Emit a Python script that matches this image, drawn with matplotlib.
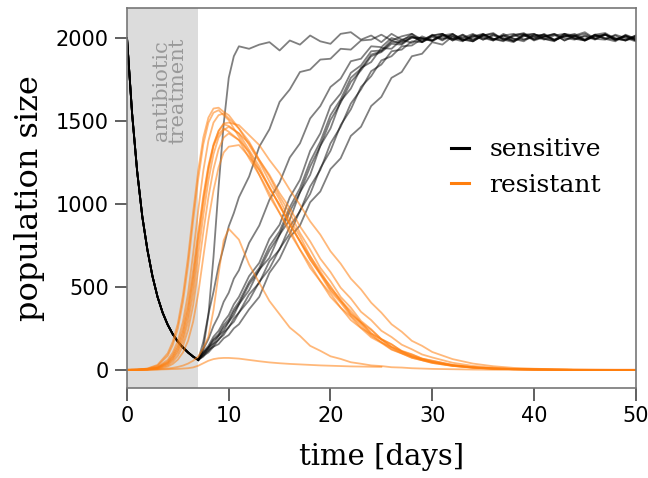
import numpy as np
import matplotlib
matplotlib.use('Agg')
import matplotlib.pyplot as plt
from matplotlib.lines import Line2D

# shared decay of sensitive cells during treatment
t_decay = [0, 0.5, 1, 1.5, 2, 2.5, 3, 3.5, 4, 4.5, 5, 5.5, 6, 6.5, 7]
s_decay = [2000, 1545, 1195, 925, 725, 565, 440, 345, 272, 215, 170, 135, 105, 80, 60]

# sensitive regrowth after treatment
t_s = [7, 7.5, 8, 8.5, 9, 9.5, 10, 10.5, 11] + list(range(12, 51))
sens = [
	# fast
	[60, 130, 330, 680, 1100, 1480, 1760, 1890, 1950, 1935, 1960, 1975, 1925, 1985, 1960, 2015,
	 1980, 1965, 2025, 2035, 1990, 2015, 1975, 2025, 1990, 2010, 1975, 2015, 2025, 1985, 2010,
	 1990, 2020, 1995, 1980, 2015, 2030, 1990, 2010, 2025, 1985, 2015, 2035, 1995, 2020, 1990, 2010, 1985],
	# second
	[60, 170, 335, 470, 625, 740, 865, 945, 1040, 1165, 1345, 1450, 1615, 1690, 1795, 1810, 1870,
	 1875, 1935, 1930, 1985, 1990, 2020, 1985, 2010, 2025, 1990, 2015, 1985, 2020, 1995, 1980,
	 2015, 2030, 1990, 2010, 2020, 1985, 2005, 2025, 2000, 1990, 2015, 1995, 2025, 1985, 2010, 1990],
	# third
	[60, 125, 185, 265, 325, 410, 465, 550, 600, 765, 870, 1025, 1130, 1280, 1365, 1515, 1590,
	 1705, 1755, 1860, 1875, 1950, 1945, 2000, 1980, 2025, 1975, 2015, 2025, 1985, 2020, 1980,
	 2015, 2025, 1990, 1975, 2020, 2025, 1995, 1980, 2025, 2000, 1985, 2020, 2030, 1995, 1985, 2015],
	# slow one
	[60, 85, 105, 140, 155, 190, 210, 250, 275, 365, 440, 585, 670, 800, 870, 1010, 1075, 1210,
	 1275, 1410, 1465, 1590, 1645, 1760, 1795, 1890, 1905, 1975, 1960, 2010, 1990, 1980, 2025,
	 1995, 1985, 2020, 2025, 1990, 2010, 2020, 1985, 2010, 2025, 1995, 1990, 2020, 2000, 1980],
	# bundle
	[60, 110, 145, 200, 235, 290, 330, 395, 440, 565, 645, 790, 875, 1040, 1145, 1320, 1425,
	 1590, 1665, 1790, 1835, 1920, 1925, 1985, 1965, 2010, 1980, 2020, 1990, 2025, 1985, 2010,
	 2025, 1990, 2015, 1995, 1980, 2020, 2010, 1990, 2025, 2015, 1985, 2010, 2020, 1995, 1990, 2015],
	[60, 90, 135, 160, 205, 235, 290, 330, 395, 480, 605, 675, 815, 905, 1070, 1175, 1350, 1455,
	 1620, 1695, 1820, 1855, 1940, 1935, 1990, 1970, 2010, 1985, 2025, 1995, 1980, 2020, 2000,
	 1985, 2025, 1995, 1990, 2015, 2020, 1985, 2010, 2025, 1990, 2015, 1995, 1980, 2020, 1995],
	[60, 105, 135, 185, 215, 270, 305, 365, 410, 530, 615, 745, 835, 980, 1095, 1255, 1375, 1535,
	 1630, 1760, 1815, 1900, 1920, 1975, 1975, 2000, 2000, 1985, 2015, 2025, 1985, 2015, 1990,
	 2020, 2000, 1980, 2015, 1995, 2025, 1990, 2010, 2015, 1985, 2020, 2000, 1990, 2015, 1985],
	[60, 95, 115, 155, 180, 225, 255, 310, 345, 455, 525, 655, 725, 865, 955, 1105, 1205, 1365,
	 1465, 1605, 1690, 1800, 1840, 1920, 1930, 1980, 1975, 2005, 2000, 1995, 2000, 2025, 1990,
	 2015, 1995, 1985, 2020, 2010, 1990, 2015, 2025, 1995, 1985, 2010, 2020, 1990, 2015, 1995],
	[60, 80, 120, 140, 185, 210, 260, 290, 345, 420, 530, 610, 730, 820, 960, 1060, 1215, 1320,
	 1475, 1570, 1705, 1770, 1865, 1890, 1950, 1955, 1995, 1985, 2015, 2010, 1985, 2005, 2020,
	 1990, 2015, 1980, 2010, 2025, 1995, 1985, 2015, 2010, 1990, 2020, 1995, 2015, 1985, 2010],
	[60, 102, 130, 178, 205, 255, 290, 350, 395, 515, 600, 720, 815, 955, 1070, 1225, 1350, 1505,
	 1610, 1735, 1805, 1890, 1915, 1965, 1960, 2005, 2000, 1980, 2015, 1995, 2020, 1990, 2010,
	 1985, 2015, 2025, 1990, 2005, 2020, 1985, 2015, 1995, 2010, 1990, 2020, 2000, 1985, 2005],
]

# resistant cells
t_r = [0, 1, 2, 3, 4, 4.5, 5, 5.5, 6, 6.5, 7, 7.5, 8, 8.5, 9, 9.5, 10] + list(range(11, 31)) + list(range(32, 51, 2))
res = [
	[0, 2, 8, 30, 100, 170, 280, 450, 680, 950, 1200, 1400, 1520, 1575, 1580, 1555, 1535,
	 1455, 1375, 1265, 1165, 1045, 945, 825, 725, 615, 535, 440, 375, 295, 245, 185, 155, 112, 92, 68, 56,
	 30, 17, 9, 5, 3, 1, 0, 0, 0, 0],
	[0, 1, 4, 15, 50, 90, 150, 250, 400, 600, 830, 1050, 1230, 1360, 1440, 1485, 1490,
	 1475, 1415, 1355, 1265, 1185, 1085, 995, 895, 815, 715, 640, 550, 485, 405, 345, 275, 230, 175, 145, 108,
	 65, 38, 22, 12, 7, 4, 2, 1, 0, 0],
	[0, 1, 5, 18, 60, 105, 175, 290, 460, 700, 960, 1200, 1380, 1490, 1535, 1545, 1515,
	 1455, 1355, 1255, 1135, 1025, 905, 805, 685, 595, 495, 425, 340, 285, 220, 184, 137, 110, 80, 63, 46,
	 26, 14, 8, 4, 2, 1, 0, 0, 0, 0],
	[0, 1, 3, 12, 40, 70, 120, 200, 330, 520, 760, 1000, 1200, 1350, 1440, 1480, 1470,
	 1425, 1325, 1225, 1095, 995, 875, 775, 665, 575, 475, 405, 325, 270, 205, 168, 125, 100, 73, 58, 42,
	 24, 13, 7, 4, 2, 1, 0, 0, 0, 0],
	[0, 0, 2, 8, 28, 50, 85, 145, 240, 390, 600, 830, 1040, 1210, 1330, 1400, 1425,
	 1385, 1315, 1205, 1105, 985, 885, 775, 685, 580, 505, 415, 355, 285, 240, 186, 153, 115, 94, 68, 54,
	 30, 16, 9, 5, 3, 1, 0, 0, 0, 0],
	[0, 0, 1, 5, 20, 36, 62, 105, 175, 290, 460, 680, 900, 1080, 1220, 1310, 1345,
	 1355, 1285, 1205, 1095, 995, 875, 775, 665, 580, 485, 415, 335, 284, 220, 183, 139, 112, 83, 66, 49,
	 28, 15, 8, 4, 2, 1, 0, 0, 0, 0],
	[0, 2, 7, 25, 85, 150, 250, 410, 630, 900, 1150, 1360, 1490, 1550, 1565, 1535, 1505,
	 1405, 1305, 1175, 1065, 945, 845, 725, 635, 535, 460, 375, 320, 254, 214, 165, 136, 101, 82, 59, 47,
	 25, 14, 7, 4, 2, 1, 0, 0, 0, 0],
	[0, 1, 4, 14, 45, 80, 135, 225, 365, 560, 800, 1030, 1220, 1350, 1420, 1455, 1435,
	 1385, 1275, 1175, 1045, 945, 825, 725, 615, 535, 440, 375, 300, 252, 196, 163, 122, 99, 73, 58, 42,
	 24, 13, 7, 4, 2, 1, 0, 0, 0, 0],
	[0, 1, 3, 10, 35, 62, 105, 175, 290, 460, 690, 930, 1140, 1300, 1400, 1445, 1465,
	 1425, 1365, 1265, 1175, 1065, 975, 865, 775, 670, 590, 495, 430, 350, 300, 236, 198, 152, 124, 93, 75,
	 43, 24, 13, 7, 4, 2, 1, 0, 0, 0],
	# low peak
	[0, 0, 1, 3, 8, 12, 18, 26, 38, 55, 80, 130, 200, 360, 580, 780, 850,
	 785, 635, 525, 415, 335, 255, 205, 145, 115, 82, 66, 46, 37, 27, 23, 16, 14, 10, 8, 6,
	 4, 2, 1, 0, 0, 0, 0, 0, 0, 0],
	# very low, run stops at day 25
	[0, 0, 1, 2, 4, 5, 6, 8, 10, 15, 25, 40, 55, 65, 70, 72, 72,
	 68, 60, 52, 45, 40, 36, 33, 30, 27, 25, 23, 21, 20, 19, 18],
]

fig = plt.figure(figsize=(6.48, 4.78), dpi=100)
ax = fig.add_axes([0.196, 0.188, 0.785, 0.795])

ax.axvspan(0, 7, color='#dcdcdc', lw=0, zorder=0)

for s in sens:
	ax.plot(t_decay, s_decay, color='black', alpha=0.5, lw=1.3)
	ax.plot(t_s, s, color='black', alpha=0.5, lw=1.3)

for r in res:
	ax.plot(t_r[:len(r)], r, color='#ff7f0e', alpha=0.55, lw=1.3)

ax.text(4.2, 1680, 'antibiotic\ntreatment', rotation=90, ha='center', va='center',
	multialignment='center', color='#999999', fontsize=15, family='DejaVu Serif', linespacing=0.85)

ax.set_xlim(0, 50)
ax.set_ylim(-110, 2180)
ax.set_xticks([0, 10, 20, 30, 40, 50])
ax.set_yticks([0, 500, 1000, 1500, 2000])
for sp in ax.spines.values():
	sp.set_color('#777777')
	sp.set_linewidth(1.2)
ax.tick_params(length=9, width=1.2, color='#444444', labelsize=15, pad=4)
for lab in ax.get_xticklabels() + ax.get_yticklabels():
	lab.set_family(['Liberation Sans Narrow', 'DejaVu Sans'])

ax.set_xlabel('time [days]', fontsize=21, family='DejaVu Serif', labelpad=12)
ax.set_ylabel('population size', fontsize=23, family='DejaVu Serif', labelpad=8)

handles = [Line2D([], [], color='black', lw=2.2), Line2D([], [], color='#ff7f0e', lw=2.2)]
ax.legend(handles, ['sensitive', 'resistant'], loc='center left', bbox_to_anchor=(0.592, 0.58),
	frameon=False, prop={'family': 'DejaVu Serif', 'size': 18}, handlelength=0.75, handletextpad=0.8,
	labelspacing=0.5)

fig.savefig('out.png', dpi=100)
